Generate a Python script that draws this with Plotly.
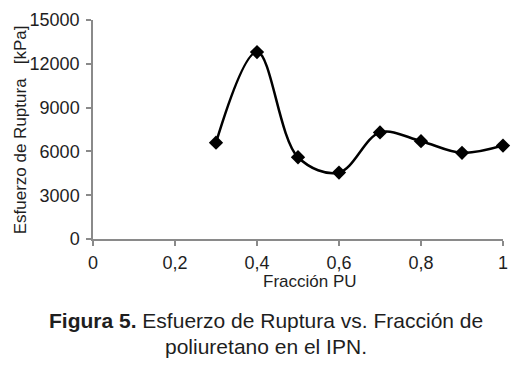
import plotly.graph_objects as go

fraccion_pu = [0.3, 0.4, 0.5, 0.6, 0.7, 0.8, 0.9, 1.0]
esfuerzo_kpa = [6600, 12800, 5600, 4550, 7300, 6700, 5900, 6400]

x_tickvals = [0, 0.2, 0.4, 0.6, 0.8, 1]
x_ticktext = ["0", "0,2", "0,4", "0,6", "0,8", "1"]
y_tickvals = [0, 3000, 6000, 9000, 12000, 15000]
y_ticktext = ["0", "3000", "6000", "9000", "12000", "15000"]

font_family = "Liberation Sans, Arial, sans-serif"
axis_color = "#8a8a8a"
text_color = "#1e1e1e"

fig = go.Figure()
fig.add_trace(go.Scatter(
    x=fraccion_pu, y=esfuerzo_kpa,
    mode="lines+markers",
    line=dict(color="black", width=2.5, shape="spline", smoothing=1.0),
    marker=dict(symbol="diamond", size=11, color="black"),
    showlegend=False, cliponaxis=False,
))

# page body has an 8px margin, so the figure is 8px smaller on each side
fig.update_layout(
    width=512, height=358,
    margin=dict(l=85, r=17, t=12, b=127, autoexpand=False),
    paper_bgcolor="white", plot_bgcolor="white",
    font=dict(family=font_family, color=text_color, size=16),
    xaxis=dict(
        range=[0, 1], tickvals=x_tickvals, ticktext=x_ticktext, automargin=False,
        showgrid=False, zeroline=False, showline=True, linecolor=axis_color, linewidth=1.5,
        ticks="outside", ticklen=5, tickcolor=axis_color, tickwidth=1.5,
        tickfont=dict(size=18, color=text_color), ticklabelstandoff=2,
    ),
    yaxis=dict(
        range=[0, 15000], tickvals=y_tickvals, ticktext=y_ticktext, automargin=False,
        showgrid=False, zeroline=False, showline=True, linecolor=axis_color, linewidth=1.5,
        ticks="outside", ticklen=5, tickcolor=axis_color, tickwidth=1.5,
        tickfont=dict(size=18, color=text_color), ticklabelstandoff=3,
    ),
    annotations=[
        dict(text="Fracción PU", xref="paper", yref="paper", x=0.529, y=-0.196,
             xanchor="center", yanchor="middle", showarrow=False,
             font=dict(size=17, color=text_color, family=font_family)),
        dict(text="Esfuerzo de Ruptura\u00a0\u00a0\u00a0[kPa]", xref="paper", yref="paper",
             x=-0.176, y=0.50, xanchor="center", yanchor="middle", textangle=-90,
             showarrow=False, font=dict(size=17, color=text_color, family=font_family)),
        dict(text="<b>Figura 5.</b> Esfuerzo de Ruptura vs. Fracción de",
             xref="paper", yref="paper", x=(266 - 93) / 410, y=-0.374,
             xanchor="center", yanchor="middle", showarrow=False,
             font=dict(size=21, color=text_color, family=font_family)),
        dict(text="poliuretano en el IPN.",
             xref="paper", yref="paper", x=(266 - 93) / 410, y=-0.493,
             xanchor="center", yanchor="middle", showarrow=False,
             font=dict(size=21, color=text_color, family=font_family)),
    ],
)

fig.write_html("out.html")
